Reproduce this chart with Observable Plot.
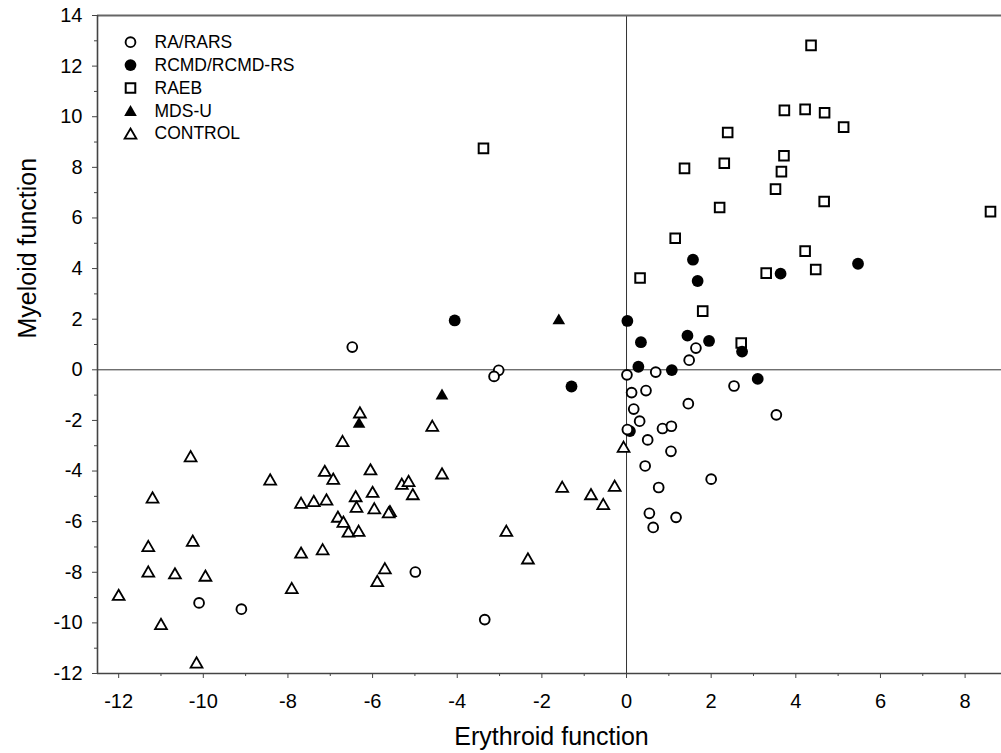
<!DOCTYPE html>
<html><head><meta charset="utf-8">
<script src="https://cdn.jsdelivr.net/npm/d3@7"></script>
<script src="https://cdn.jsdelivr.net/npm/@observablehq/plot@0.6"></script>
<style>html,body{margin:0;padding:0;background:#fff}#chart svg{display:block}</style>
</head><body><div id="chart"></div>
<script>
// ---- data: [erythroid function, myeloid function] ----
const raRars = [[-10.1,-9.21],[-9.1,-9.46],[-4.99,-7.99],[-3.35,-9.87],[-6.48,0.9],[-3.02,-0.02],[-3.13,-0.26],[0.01,-0.2],[0.69,-0.09],[1.64,0.86],[1.48,0.38],[2.54,-0.64],[0.12,-0.9],[0.46,-0.82],[1.46,-1.34],[3.54,-1.78],[0.17,-1.55],[0.31,-2.03],[0.02,-2.36],[0.85,-2.32],[1.06,-2.23],[0.5,-2.77],[1.05,-3.22],[0.44,-3.8],[2.0,-4.32],[0.76,-4.65],[0.54,-5.67],[1.17,-5.83],[0.63,-6.23]];
const rcmd = [[-4.06,1.95],[-1.3,-0.66],[1.57,4.35],[1.68,3.51],[3.64,3.8],[5.47,4.19],[0.02,1.93],[0.34,1.09],[1.44,1.35],[1.95,1.14],[2.73,0.72],[0.28,0.12],[1.07,-0.01],[3.1,-0.36],[0.08,-2.42]];
const raeb = [[4.36,12.82],[3.73,10.25],[4.22,10.29],[4.68,10.16],[5.13,9.59],[2.39,9.38],[3.72,8.46],[2.31,8.16],[1.37,7.96],[3.66,7.83],[3.52,7.14],[4.67,6.65],[2.2,6.41],[8.6,6.25],[1.15,5.2],[0.32,3.63],[1.8,2.32],[3.3,3.82],[4.22,4.69],[4.47,3.96],[2.71,1.06],[-3.38,8.75]];
const mdsU = [[-6.32,-2.09],[-4.36,-0.97],[-1.6,2.0]];
const control = [[-12.0,-8.9],[-11.2,-5.05],[-11.3,-6.97],[-11.3,-7.98],[-11.0,-10.05],[-10.67,-8.05],[-10.3,-3.42],[-10.25,-6.76],[-9.95,-8.14],[-10.16,-11.57],[-8.42,-4.34],[-7.91,-8.63],[-7.69,-5.26],[-7.69,-7.23],[-7.39,-5.19],[-7.13,-4.0],[-7.09,-5.13],[-7.18,-7.1],[-6.93,-4.31],[-6.82,-5.81],[-6.69,-6.01],[-6.57,-6.4],[-6.71,-2.82],[-6.3,-1.69],[-6.4,-5.0],[-6.38,-5.42],[-6.33,-6.37],[-6.05,-3.94],[-6.0,-4.83],[-5.96,-5.48],[-5.71,-7.85],[-5.89,-8.35],[-5.59,-5.59],[-5.62,-5.64],[-5.31,-4.51],[-5.15,-4.4],[-5.05,-4.92],[-4.59,-2.22],[-4.36,-4.1],[-2.84,-6.37],[-2.33,-7.46],[-1.52,-4.63],[-0.84,-4.92],[-0.55,-5.31],[-0.28,-4.59],[-0.07,-3.05]];

const xMajorTicks = [-12,-10,-8,-6,-4,-2,0,2,4,6,8];
const xMinorTicks = [-11,-9,-7,-5,-3,-1,1,3,5,7];
const yMajorTicks = [-12,-10,-8,-6,-4,-2,0,2,4,6,8,10,12,14];
const yMinorTicks = [-11,-9,-7,-5,-3,-1,1,3,5,7,9,11,13];
const legendLabels = ["RA/RARS","RCMD/RCMD-RS","RAEB","MDS-U","CONTROL"];
const xTitle = "Erythroid function";
const yTitle = "Myeloid function";

// ---- styles ----
const font = "'Liberation Sans', Arial, Helvetica, sans-serif";
const groupStyle = {
  "RA/RARS":      {data: raRars,  symbol: "circle",   r: 4.9, fill: "#fff", stroke: "#000", strokeWidth: 1.9, dy: 0},
  "RCMD/RCMD-RS": {data: rcmd,    symbol: "circle",   r: 5.9, fill: "#000", stroke: "none", strokeWidth: 0, dy: 0},
  "RAEB":         {data: raeb,    symbol: "square",   r: 5.4, fill: "#fff", stroke: "#000", strokeWidth: 2, dy: 0},
  "MDS-U":        {data: mdsU,    symbol: "triangle", r: 4.7, fill: "#000", stroke: "none", strokeWidth: 0, dy: 1.5},
  "CONTROL":      {data: control, symbol: "triangle", r: 4.4, fill: "#fff", stroke: "#000", strokeWidth: 1.8, dy: 1.5}
};
const drawOrder = ["RAEB","MDS-U","RCMD/RCMD-RS","CONTROL","RA/RARS"];

const dotMarks = drawOrder.map(k => {
  const s = groupStyle[k];
  return Plot.dot(s.data, {x: d => d[0], y: d => d[1], dy: s.dy, symbol: s.symbol, r: s.r, fill: s.fill, stroke: s.stroke, strokeWidth: s.strokeWidth});
});

const legendMarks = legendLabels.flatMap((k, i) => {
  const s = groupStyle[k];
  const dy = 26.7 + 22.9 * i;
  return [
    Plot.dot([k], {frameAnchor: "top-left", dx: 33, dy: dy + s.dy, symbol: s.symbol, r: s.r, fill: s.fill, stroke: s.stroke, strokeWidth: s.strokeWidth}),
    Plot.text([k], {frameAnchor: "top-left", dx: 57, dy, text: d => d, textAnchor: "start", lineAnchor: "middle", fontSize: 17.5, fill: "#000"})
  ];
});

const chart = Plot.plot({
  width: 1001,
  height: 753,
  marginTop: 15,
  marginBottom: 80,
  marginLeft: 97,
  marginRight: 0,
  style: {fontFamily: font, background: "#fff", color: "#000"},
  x: {domain: [-12.5, 8.86]},
  y: {domain: [-12, 14]},
  marks: [
    Plot.ruleX([0], {stroke: "#333", strokeWidth: 1}),
    Plot.ruleY([0], {stroke: "#333", strokeWidth: 1}),
    Plot.ruleY([14], {stroke: "#666", strokeWidth: 2}),
    Plot.ruleX([-12.5], {stroke: "#444", strokeWidth: 1.6}),
    Plot.ruleY([-12], {stroke: "#444", strokeWidth: 1.6}),
    Plot.axisX({ticks: xMajorTicks, tickSize: 5, tickPadding: 15, fontSize: 20, tickFormat: d => String(d), label: null, stroke: "#444"}),
    Plot.axisX({ticks: xMinorTicks, tickSize: 3, tickFormat: () => "", label: null, stroke: "#444"}),
    Plot.axisY({ticks: yMajorTicks, tickSize: 5, tickPadding: 10, fontSize: 20, tickFormat: d => String(d), label: null, stroke: "#444"}),
    Plot.axisY({ticks: yMinorTicks, tickSize: 3, tickFormat: () => "", label: null, stroke: "#444"}),
    ...dotMarks,
    ...legendMarks,
    Plot.text([xTitle], {frameAnchor: "bottom", dx: 2, dy: 63, text: d => d, fontSize: 25, lineAnchor: "middle", fill: "#000"}),
    Plot.text([yTitle], {frameAnchor: "left", dx: -70, dy: -6, rotate: -90, text: d => d, fontSize: 25, lineAnchor: "middle", fill: "#000"})
  ]
});
document.getElementById("chart").appendChild(chart);
</script>
</body></html>
